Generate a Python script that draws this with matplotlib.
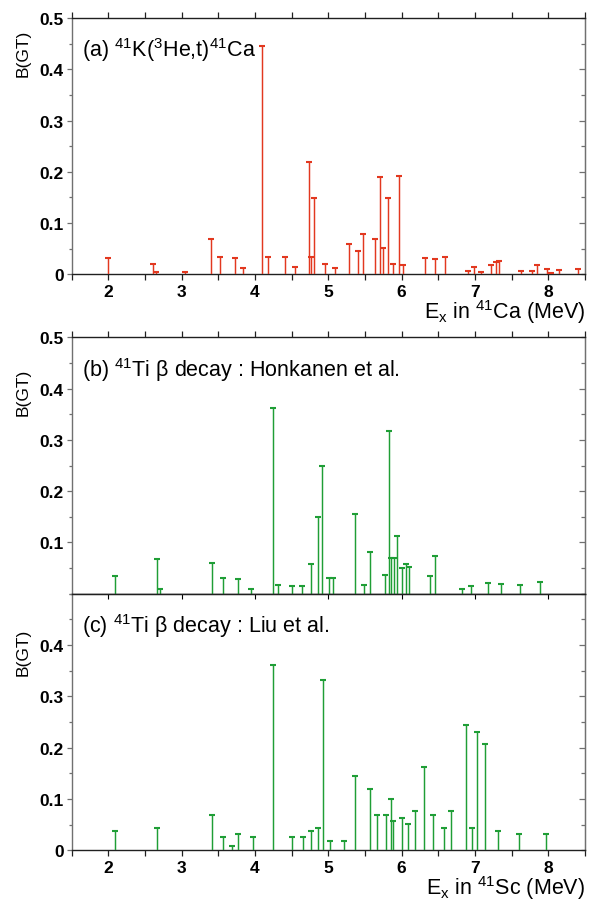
import matplotlib
matplotlib.use("Agg")
import matplotlib.pyplot as plt
from matplotlib.ticker import MultipleLocator, FixedLocator

plt.rcParams['font.family'] = ['Liberation Sans', 'DejaVu Sans']
plt.rcParams['mathtext.fontset'] = 'custom'
plt.rcParams['mathtext.rm'] = 'Liberation Sans'
plt.rcParams['mathtext.it'] = 'Liberation Sans:italic'
plt.rcParams['mathtext.bf'] = 'Liberation Sans:bold'

# ---- data ----
ex_a = [2.00, 2.605, 2.65, 3.05, 3.40, 3.52, 3.73, 3.84, 4.09, 4.18, 4.41, 4.54,
        4.73, 4.76, 4.80, 4.96, 5.09, 5.28, 5.40, 5.47, 5.64, 5.71, 5.74, 5.81,
        5.88, 5.96, 6.02, 6.32, 6.46, 6.59, 6.90, 6.98, 7.08, 7.22, 7.29, 7.33,
        7.63, 7.78, 7.85, 7.98, 8.04, 8.14, 8.40]
bgt_a = [0.032, 0.021, 0.004, 0.004, 0.068, 0.034, 0.031, 0.012, 0.446, 0.034, 0.034, 0.015,
         0.220, 0.034, 0.149, 0.021, 0.012, 0.060, 0.045, 0.079, 0.068, 0.190, 0.052, 0.149,
         0.021, 0.192, 0.018, 0.032, 0.030, 0.034, 0.007, 0.014, 0.004, 0.018, 0.024, 0.026,
         0.006, 0.006, 0.018, 0.010, 0.003, 0.008, 0.010]

ex_b = [2.09, 2.66, 2.70, 3.41, 3.56, 3.77, 3.95, 4.24, 4.32, 4.50, 4.64, 4.77,
        4.86, 4.92, 5.01, 5.07, 5.37, 5.49, 5.57, 5.77, 5.83, 5.86, 5.90, 5.93,
        6.01, 6.06, 6.10, 6.39, 6.46, 6.82, 6.94, 7.18, 7.35, 7.62, 7.89]
bgt_b = [0.035, 0.068, 0.009, 0.060, 0.031, 0.029, 0.009, 0.362, 0.016, 0.015, 0.015, 0.057,
         0.150, 0.250, 0.031, 0.031, 0.156, 0.017, 0.081, 0.036, 0.318, 0.069, 0.069, 0.112,
         0.051, 0.058, 0.053, 0.034, 0.074, 0.010, 0.015, 0.021, 0.018, 0.016, 0.023]

ex_c = [2.09, 2.66, 3.41, 3.56, 3.68, 3.77, 3.97, 4.24, 4.50, 4.66, 4.77, 4.86,
        4.93, 5.02, 5.21, 5.37, 5.57, 5.67, 5.78, 5.85, 5.88, 6.01, 6.08, 6.18,
        6.30, 6.43, 6.58, 6.67, 6.88, 6.96, 7.03, 7.14, 7.32, 7.60, 7.97]
bgt_c = [0.038, 0.044, 0.069, 0.025, 0.009, 0.032, 0.025, 0.362, 0.025, 0.025, 0.038, 0.044,
         0.332, 0.019, 0.019, 0.145, 0.119, 0.069, 0.069, 0.100, 0.057, 0.063, 0.051, 0.076,
         0.163, 0.069, 0.044, 0.076, 0.244, 0.044, 0.231, 0.207, 0.038, 0.032, 0.032]

panel_texts = [r'(a) $^{41}$K($^{3}$He,t)$^{41}$Ca',
               r'(b) $^{41}$Ti β decay : Honkanen et al.',
               r'(c) $^{41}$Ti β decay : Liu et al.']
xlabels = [r'E$_{\rm x}$ in $^{41}$Ca (MeV)', None, r'E$_{\rm x}$ in $^{41}$Sc (MeV)']
xticks = [2, 3, 4, 5, 6, 7, 8]
yticks_list = [[0, 0.1, 0.2, 0.3, 0.4, 0.5], [0.1, 0.2, 0.3, 0.4, 0.5], [0, 0.1, 0.2, 0.3, 0.4]]

RED = '#e2381f'
GREEN = '#1f9e36'

W, H = 591, 903
fig = plt.figure(figsize=(W / 100, H / 100), dpi=100)

def rect(top_px, bot_px, left_px=71.7, right_px=585.0):
    return [left_px / W, 1 - bot_px / H, (right_px - left_px) / W, (bot_px - top_px) / H]

axes = [fig.add_axes(rect(19.0, 275.3)),
        fig.add_axes(rect(338.3, 594.7)),
        fig.add_axes(rect(594.7, 851.3))]

data = [(ex_a, bgt_a, RED), (ex_b, bgt_b, GREEN), (ex_c, bgt_c, GREEN)]
ylab_y = [0.865, 0.79, 0.775]

for i, ax in enumerate(axes):
    ex, b, col = data[i]
    ax.vlines(ex, 0, b, colors=col, linewidth=1.05, zorder=3)
    ax.plot(ex, b, ls='none', marker='_', markersize=4.5, markeredgewidth=1.5,
            color=col, zorder=3)
    ax.set_xlim(1.5, 8.5)
    ax.set_ylim(0, 0.5)
    ax.xaxis.set_major_locator(FixedLocator(xticks))
    ax.xaxis.set_minor_locator(MultipleLocator(0.5))
    ax.yaxis.set_major_locator(FixedLocator(yticks_list[i]))
    ax.yaxis.set_minor_locator(MultipleLocator(0.05))
    ax.yaxis.set_major_formatter(matplotlib.ticker.FuncFormatter(
        lambda v, p: '0' if abs(v) < 1e-9 else f'{v:.1f}'))
    for s in ['left', 'right']:
        ax.spines[s].set_color('#707070')
    for s in ['top', 'bottom']:
        ax.spines[s].set_color('#202020')
    for sp in ax.spines.values():
        sp.set_linewidth(1.0)
    ax.tick_params(axis='x', which='both', direction='out', top=True, bottom=True,
                   labelsize=12.5, pad=3, color='#202020', width=0.9)
    ax.tick_params(axis='x', which='major', length=4)
    ax.tick_params(axis='x', which='minor', length=4)
    ax.tick_params(axis='y', which='both', direction='out', left=True, right=False,
                   labelsize=12.5, pad=2, color='#707070', width=0.9)
    ax.tick_params(axis='y', which='major', length=3.6)
    ax.tick_params(axis='y', which='minor', length=2.4)
    for lab in ax.get_xticklabels() + ax.get_yticklabels():
        lab.set_fontweight('bold')
    # inward right ticks
    sec = ax.secondary_yaxis('right')
    sec.yaxis.set_major_locator(FixedLocator([0.1, 0.2, 0.3, 0.4]))
    sec.yaxis.set_minor_locator(MultipleLocator(0.05))
    sec.tick_params(which='both', direction='in', labelright=False, color='#707070', width=0.9)
    sec.tick_params(which='major', length=4)
    sec.tick_params(which='minor', length=3)
    sec.spines['right'].set_color('#707070')

    ax.text(0.021, 0.85, panel_texts[i], transform=ax.transAxes, fontsize=15.5,
            ha='left', va='baseline')
    ax.text(-0.095, ylab_y[i], 'B(GT)', transform=ax.transAxes, fontsize=12.5,
            rotation=90, ha='center', va='center')
    if xlabels[i]:
        ax.text(1.0, -0.172, xlabels[i], transform=ax.transAxes, fontsize=15.5,
                ha='right', va='baseline')

axes[1].tick_params(axis='x', which='both', labelbottom=False, bottom=False)
axes[2].tick_params(axis='x', which='both', top=False)
axes[2].secondary_xaxis('top').tick_params(which='both', direction='in', labeltop=False)

fig.savefig('out.png', dpi=100)
